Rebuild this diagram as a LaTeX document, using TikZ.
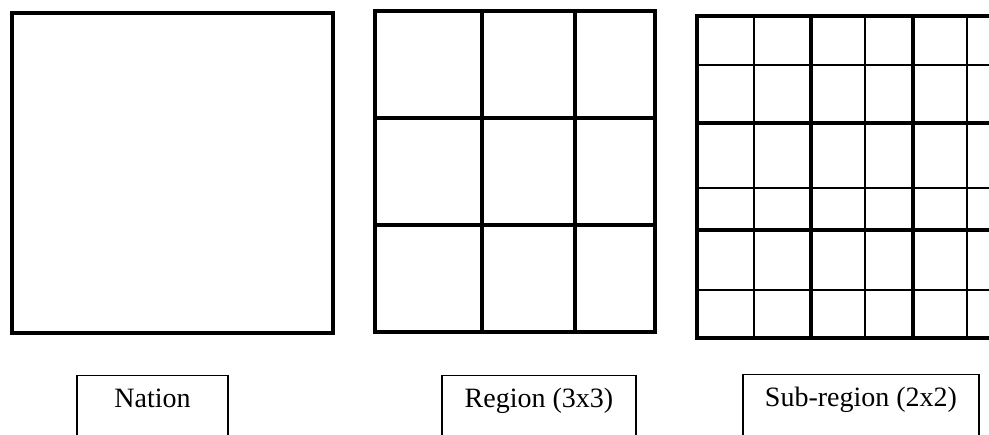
\documentclass[tikz,border=0pt]{standalone}
\usepackage{fontspec}
\setmainfont{Liberation Serif}
\tikzset{
  outline/.style={line width=3.5pt},
  thinline/.style={line width=2pt},
  labelbox/.style={
    draw,
    line width=1.3pt,
    anchor=north,
    inner sep=0pt,
    text height=32pt,
    text depth=40pt,
    font=\fontsize{28}{30}\selectfont
  }
}

\begin{document}
\begin{tikzpicture}[x=1pt, y=-1pt]
    \useasboundingbox (0,0) rectangle (989,435);
    \clip (0,0) rectangle (989,435);
    % nation
    \draw[outline] (12,13) rectangle (333,333);
    % regions
    \draw[outline] (375,11) rectangle (655,332);
    \draw[outline] (482,11) -- (482,332) (575,11) -- (575,332);
    \draw[outline] (375,118) -- (655,118) (375,225) -- (655,225);
    % sub-regions
    \foreach \x in {754,865,967} \draw[thinline] (\x,16) -- (\x,338);
    \foreach \y in {65,188,290} \draw[thinline] (697,\y) -- (1021,\y);
    \draw[outline] (697,16) rectangle (1021,338);
    \foreach \x in {811,913} \draw[outline] (\x,16) -- (\x,338);
    \foreach \y in {123,230} \draw[outline] (697,\y) -- (1021,\y);
    \node[labelbox, minimum width=151pt] (nation) at (152.5,375) {Nation};
    \node[labelbox, minimum width=194pt] (region) at (539,375) {Region (3x3)};
    \node[labelbox, minimum width=236pt] (subregion) at (861,374) {Sub-region (2x2)};
\end{tikzpicture}
\end{document}
